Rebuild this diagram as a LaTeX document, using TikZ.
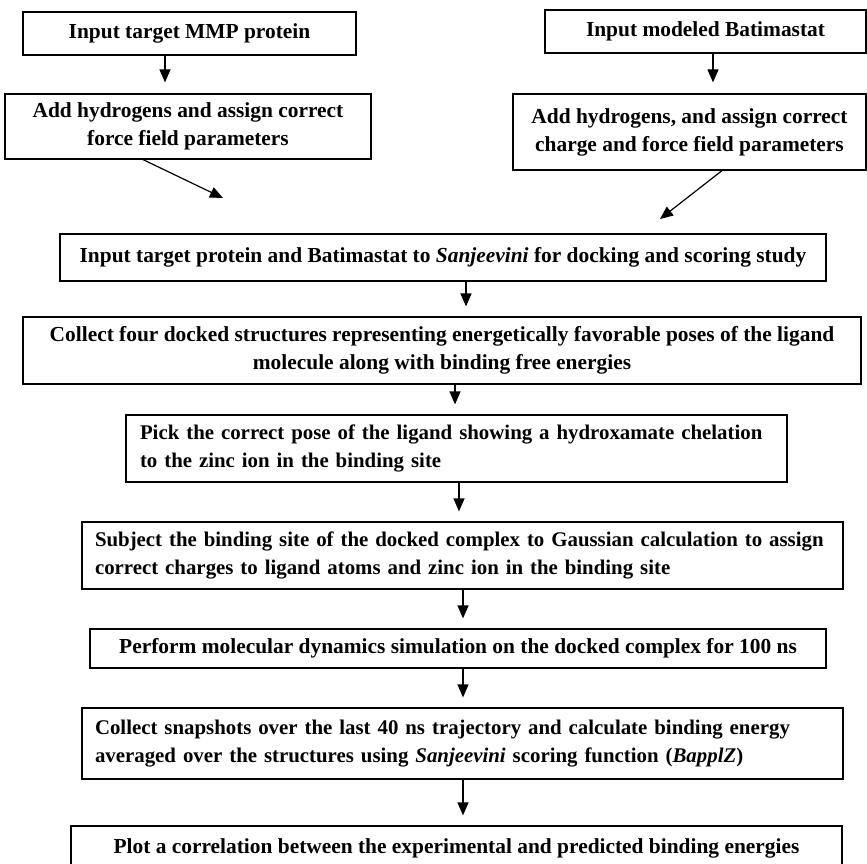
\documentclass[tikz,border=0pt]{standalone}
\usepackage{fontspec}
\setmainfont{Liberation Serif}
\usetikzlibrary{arrows.meta}

\tikzset{
  stepbox/.style={draw, line width=1.2pt, inner sep=0pt, align=center,
    font=\bfseries\fontsize{21.4}{28}\selectfont},
  leftbox/.style={stepbox, align=left, inner xsep=13pt,
    font=\bfseries\fontsize{20.85}{28}\selectfont},
  arr/.style={line width=1.2pt, -{Triangle[length=13pt,width=11pt]}},
}

\begin{document}
\begin{tikzpicture}[x=1pt,y=-1pt]
  \useasboundingbox (0,0) rectangle (867,864);

  % Protein branch
  \node[stepbox, minimum width=333pt, minimum height=43pt] (b1) at (189.5,33.5)
    {Input target MMP protein};
  \node[stepbox, minimum width=366pt, minimum height=65pt] (b2) at (188,126.5)
    {Add hydrogens and assign correct\\force field parameters};

  % Ligand branch
  \node[stepbox, minimum width=321pt, minimum height=43pt] (b3) at (705.5,31.5)
    {Input modeled Batimastat};
  \node[stepbox, minimum width=353pt, minimum height=76pt] (b4) at (689.5,132)
    {Add hydrogens, and assign correct\\charge and force field parameters};

  % Main chain
  \node[stepbox, minimum width=766pt, minimum height=47pt] (b5) at (443,257.5)
    {Input target protein and Batimastat to \textit{Sanjeevini} for docking and scoring study};
  \node[stepbox, minimum width=838pt, minimum height=67pt] (b6) at (442,350.5)
    {Collect four docked structures representing energetically favorable poses of the ligand\\molecule along with binding free energies};
  \node[leftbox, inner xsep=14pt, text width=633pt, minimum height=67pt] (b7) at (456.5,448.5)
    {\mbox{Pick the correct pose of the ligand showing a hydroxamate chelation}\\
     \mbox{to the zinc ion in the binding site}};
  \node[leftbox, text width=735pt, minimum height=67pt] (b8) at (462.5,555.5)
    {\mbox{Subject the binding site of the docked complex to Gaussian calculation to assign}\\
     \mbox{correct charges to ligand atoms and zinc ion in the binding site}};
  \node[stepbox, minimum width=736pt, minimum height=39pt] (b9) at (458,648.5)
    {Perform molecular dynamics simulation on the docked complex for 100 ns};
  \node[leftbox, text width=735pt, minimum height=71pt] (b10) at (462.5,743.5)
    {\mbox{Collect snapshots over the last 40 ns trajectory and calculate binding energy}\\
     \mbox{averaged over the structures using \textit{Sanjeevini} scoring function (\textit{BapplZ})}};
  \node[stepbox, minimum width=771pt, minimum height=45pt] (b11) at (456.5,848.5)
    {Plot a correlation between the experimental and predicted binding energies};

  % Arrows
  \draw[arr, shorten >=11pt] (b1.south -| 165,0) -- (b2.north -| 165,0);
  \draw[arr, shorten >=11pt] (b3.south -| 713,0) -- (b4.north -| 713,0);

  \coordinate (t2) at (223,198);
  \coordinate (t4) at (660,219);
  \draw[arr] (b2.south -| 143,0) -- (t2);
  \draw[arr] (b4.south -| 722,0) -- (t4);

  \foreach \a/\b/\x in {b5/b6/466, b6/b7/455, b7/b8/459, b8/b9/463, b9/b10/463, b10/b11/463}
    \draw[arr, shorten >=10pt] (\a.south -| \x,0) -- (\b.north -| \x,0);

\end{tikzpicture}
\end{document}
